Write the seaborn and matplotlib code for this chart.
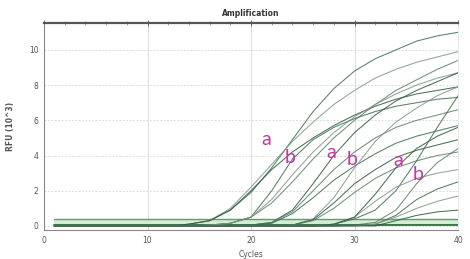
import numpy as np
import pandas as pd
import matplotlib
matplotlib.use("Agg")
import matplotlib.pyplot as plt
import seaborn as sns
from matplotlib.ticker import MultipleLocator

cycles = [1, 12, 14, 16, 18, 20, 22, 24, 26, 28, 30, 32, 34, 36, 38, 40]

g1_top = [0, 0, 0.1, 0.3, 0.9, 1.9, 3.3, 4.9, 6.5, 7.8, 8.8, 9.5, 10.0, 10.5, 10.8, 11.0]
g1_b   = [0, 0, 0.1, 0.3, 1.0, 2.2, 3.5, 4.8, 5.9, 6.9, 7.7, 8.4, 8.9, 9.3, 9.6, 9.9]
g1_c   = [0, 0, 0.1, 0.3, 0.9, 2.0, 3.2, 4.2, 5.0, 5.7, 6.3, 6.8, 7.2, 7.5, 7.7, 7.9]
g2_a   = [0, 0, 0, 0.05, 0.15, 0.5, 1.3, 2.5, 3.8, 5.0, 6.0, 6.9, 7.7, 8.3, 8.9, 9.4]
g2_b   = [0, 0, 0, 0.05, 0.15, 0.5, 2.0, 3.8, 4.9, 5.6, 6.1, 6.5, 6.8, 7.0, 7.2, 7.3]
g2_c   = [0, 0, 0, 0.05, 0.15, 0.5, 1.5, 2.9, 4.2, 5.3, 6.2, 6.9, 7.5, 8.0, 8.4, 8.7]
g3_a   = [0, 0, 0, 0, 0, 0.05, 0.2, 0.9, 2.4, 4.0, 5.3, 6.3, 7.1, 7.7, 8.2, 8.7]
g3_b   = [0, 0, 0, 0, 0, 0.05, 0.2, 0.8, 2.0, 3.2, 4.2, 5.0, 5.6, 6.0, 6.3, 6.6]
g3_c   = [0, 0, 0, 0, 0, 0.05, 0.15, 0.7, 1.6, 2.6, 3.4, 4.1, 4.7, 5.1, 5.4, 5.7]
g4_a   = [0, 0, 0, 0, 0, 0, 0, 0.05, 0.4, 1.6, 3.3, 4.8, 5.9, 6.7, 7.4, 7.9]
g4_b   = [0, 0, 0, 0, 0, 0, 0, 0.05, 0.35, 1.3, 2.4, 3.2, 3.9, 4.3, 4.6, 4.9]
g4_c   = [0, 0, 0, 0, 0, 0, 0, 0.05, 0.3, 1.0, 1.9, 2.7, 3.3, 3.7, 4.0, 4.2]
g5_a   = [0, 0, 0, 0, 0, 0, 0, 0, 0, 0.1, 0.4, 0.9, 2.0, 3.7, 5.6, 7.4]
g5_b   = [0, 0, 0, 0, 0, 0, 0, 0, 0, 0.1, 0.5, 1.4, 2.2, 2.7, 3.0, 3.2]
g5_c   = [0, 0, 0, 0, 0, 0, 0, 0, 0, 0.1, 0.5, 1.8, 3.3, 4.4, 5.1, 5.6]
g6_a   = [0, 0, 0, 0, 0, 0, 0, 0, 0, 0, 0.05, 0.2, 0.9, 2.4, 3.6, 4.4]
g6_b   = [0, 0, 0, 0, 0, 0, 0, 0, 0, 0, 0.05, 0.1, 0.6, 1.5, 2.1, 2.5]
g6_c   = [0, 0, 0, 0, 0, 0, 0, 0, 0, 0, 0, 0.1, 0.5, 1.0, 1.4, 1.7]
g6_d   = [0, 0, 0, 0, 0, 0, 0, 0, 0, 0, 0, 0, 0.3, 0.6, 0.8, 0.9]

curves = {
    "g1_top": g1_top, "g1_b": g1_b, "g1_c": g1_c,
    "g2_a": g2_a, "g2_b": g2_b, "g2_c": g2_c,
    "g3_a": g3_a, "g3_b": g3_b, "g3_c": g3_c,
    "g4_a": g4_a, "g4_b": g4_b, "g4_c": g4_c,
    "g5_a": g5_a, "g5_b": g5_b, "g5_c": g5_c,
    "g6_a": g6_a, "g6_b": g6_b, "g6_c": g6_c, "g6_d": g6_d,
}

band_cycles = [1, 40]
band_low = [0.05, 0.05]
band_high = [0.42, 0.42]

labels = ["a", "b", "a", "b", "a", "b"]
label_x = [21.5, 23.8, 27.8, 29.8, 34.2, 36.1]
label_y = [4.9, 3.9, 4.2, 3.8, 3.7, 2.9]

x_ticks = [0, 10, 20, 30, 40]
y_ticks = [0, 2, 4, 6, 8, 10]

rows = []
for name, vals in curves.items():
    for c, v in zip(cycles, vals):
        rows.append({"curve": name, "cycle": c, "rfu": v})
df = pd.DataFrame(rows)

sns.set_theme(style="white")
plt.rcParams["font.family"] = ["DejaVu Sans"]

fig = plt.figure(figsize=(4.70, 2.59), dpi=100)
ax = fig.add_axes([44/470, 1-230/259, (458-44)/470, (230-23)/259])

# threshold band
ax.fill_between(band_cycles, band_low, band_high, color="#d5ebd5", zorder=1, lw=0)
ax.plot(band_cycles, band_high, color="#5f9e68", lw=1.0, zorder=2)
ax.plot(band_cycles, band_low, color="#2e6b3a", lw=1.3, zorder=2)

n = len(curves)
palette = ["#3a6a4a", "#7d9585", "#2c573b", "#5b7c65"] * 5
palette = dict(zip(curves.keys(), palette[:n]))
sns.lineplot(data=df, x="cycle", y="rfu", hue="curve", palette=palette,
             estimator=None, legend=False, lw=0.75, alpha=0.85, ax=ax, zorder=3)

for t, x, y in zip(labels, label_x, label_y):
    ax.text(x, y, t, color="#c2399c", fontsize=14, ha="center", va="center",
            family=["Lato", "DejaVu Sans"], zorder=5)

ax.set_xlim(0, 40)
ax.set_ylim(-0.23, 11.53)
ax.set_xticks(x_ticks)
ax.set_yticks(y_ticks)
ax.xaxis.set_minor_locator(MultipleLocator(2))
ax.yaxis.set_minor_locator(MultipleLocator(0.5))
ax.tick_params(axis="both", which="major", labelsize=5.5, colors="#555555",
               direction="inout", length=4, width=0.6, top=True, pad=2)
ax.tick_params(axis="both", which="minor", direction="inout", length=2.5,
               width=0.5, colors="#777777", top=True)
for lab in ax.get_xticklabels() + ax.get_yticklabels():
    lab.set_color("#555555")

ax.grid(True, which="major", axis="x", color="#dddddd", lw=0.7)
ax.grid(True, which="major", axis="y", color="#dddddd", lw=0.7, ls=(0, (2, 1.5)))

ax.spines["top"].set_color("#555555")
ax.spines["top"].set_linewidth(1.6)
ax.spines["bottom"].set_color("#888888")
ax.spines["bottom"].set_linewidth(0.8)
ax.spines["left"].set_color("#888888")
ax.spines["left"].set_linewidth(0.8)
ax.spines["right"].set_color("#e6e6e6")
ax.spines["right"].set_linewidth(0.6)

ax.set_title("Amplification", fontsize=5.5, fontweight="bold", color="#333333", pad=5)
ax.set_xlabel("Cycles", fontsize=5.5, color="#555555", labelpad=4)
ax.set_ylabel("RFU (10^3)", fontsize=5.5, fontweight="bold", color="#555555", labelpad=10)

fig.savefig("out.png", dpi=100, facecolor="white")
